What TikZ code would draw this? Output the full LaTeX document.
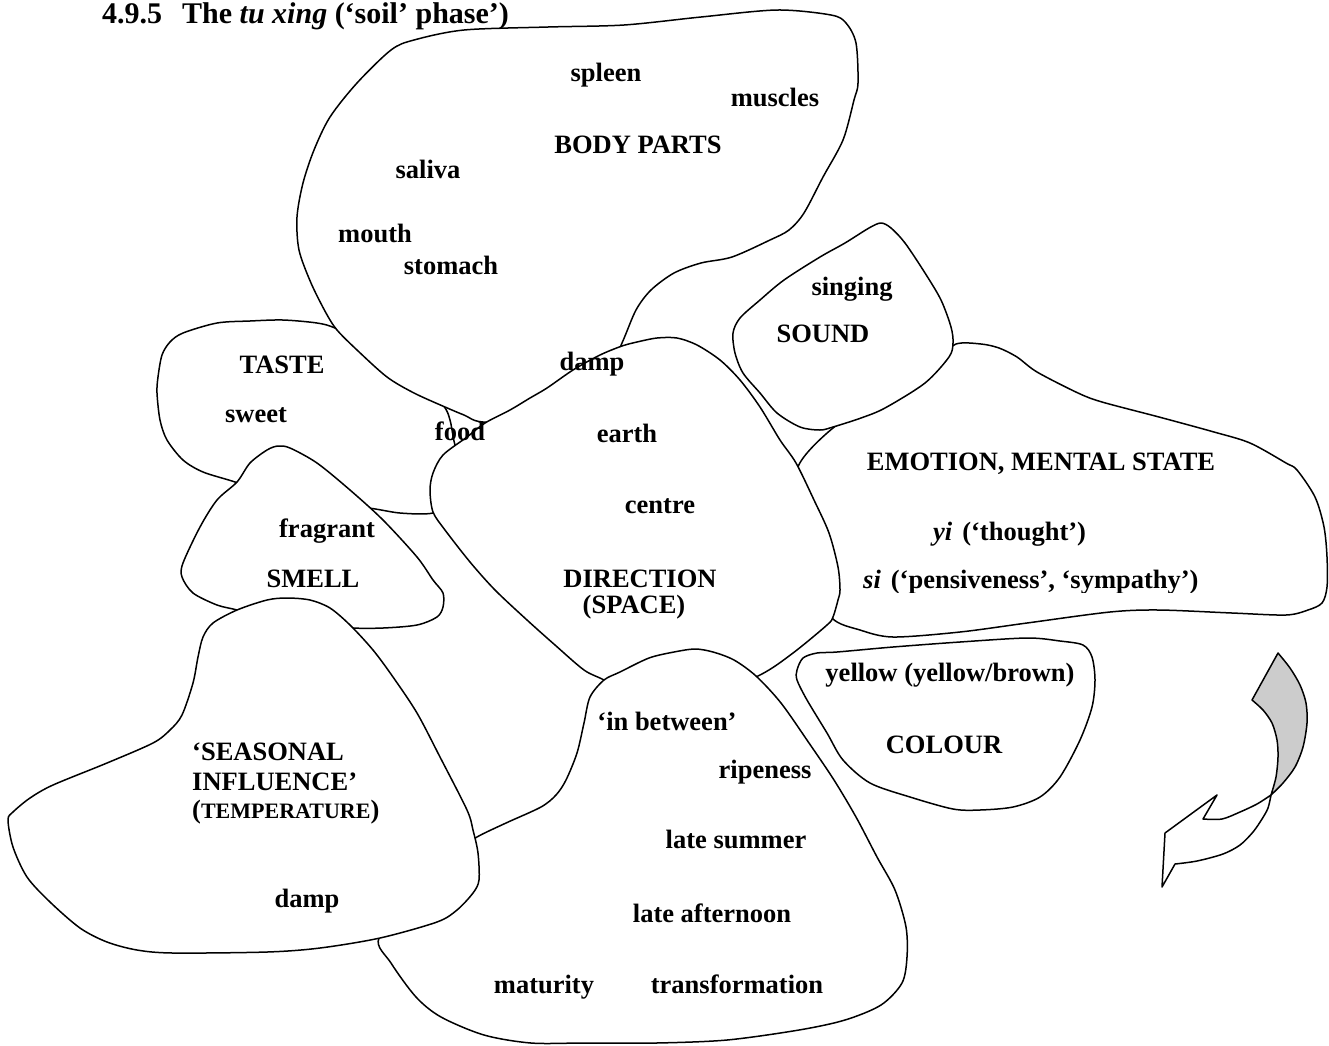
\documentclass[tikz,border=0pt]{standalone}
\usepackage{fontspec}
\setmainfont{Liberation Serif}
\definecolor{arrowgray}{RGB}{204,204,204}
\begin{document}
\begin{tikzpicture}[x=1pt,y=-1pt,
  blob/.style={draw=black, fill=white, line width=1.5pt, line join=round},
  lbl/.style={anchor=base, inner sep=0pt, font=\fontsize{26.5}{30}\selectfont\bfseries},
  lblw/.style={lbl, anchor=base west}]
\useasboundingbox (0,0) rectangle (1329,1045);

% ---- regions, back to front ----
% taste
\path[blob] plot[smooth cycle, tension=0.5] coordinates {
  (162,355) (170,342) (183,333) (217,323) (250,321) (283,320) (317,323) (335,328)
  (370,345) (415,375) (443,405) (450,420) (455,445) (465,470) (455,500)
  (433,513) (400,513) (368,508) (320,505) (270,495) (235,482) (203,472)
  (183,460) (167,440) (160,420) (157,393) (158,377)};
% smell
\path[blob] plot[smooth cycle, tension=0.5] coordinates {
  (237,482) (250,463) (267,450) (278,446) (290,448) (317,463) (350,490) (383,520)
  (417,557) (433,580) (443,593) (443,607) (437,617) (417,625) (383,628) (350,628)
  (300,625) (260,618) (237,610) (217,605) (193,593) (182,577) (183,563) (200,527) (217,500)};
% body parts
\path[blob] plot[smooth cycle, tension=0.5] coordinates {
  (391,50) (414,40) (464,30) (548,27) (624,25) (701,17) (777,10) (831,15) (846,23)
  (856,43) (858,83) (854,100) (843,140) (823,177) (804,213) (789,230) (770,240)
  (732,257) (701,263) (674,273) (651,290) (636,310) (622,343) (600,390) (540,420)
  (483,422) (464,415) (445,407) (414,393) (387,377) (357,350) (337,330) (326,313)
  (311,283) (299,250) (297,217) (303,183) (314,150) (330,117) (357,83)};
% emotion, mental state
\path[blob] plot[smooth cycle, tension=0.5] coordinates {
  (798,467) (833,428) (880,400) (935,360) (956,344) (981,344) (999,348) (1017,357)
  (1037,372) (1078,393) (1102,402) (1159,417) (1214,432) (1250,443) (1286,463)
  (1297,470) (1315,497) (1324,527) (1327,557) (1327,587) (1322,603) (1308,610)
  (1286,615) (1232,613) (1159,610) (1110,612) (1027,623) (960,632) (893,637)
  (860,630) (832,618) (815,580) (805,510)};
% direction
\path[blob] plot[smooth cycle, tension=0.5] coordinates {
  (485,423) (510,410) (530,398) (547,388) (573,370) (600,355) (622,346) (637,342)
  (657,338) (677,338) (697,345) (720,360) (740,380) (760,407) (780,440) (796,463)
  (814,500) (829,533) (838,567) (840,590) (838,600) (833,617) (827,625) (793,653)
  (760,675) (700,700) (640,700) (604,680) (584,670) (555,645) (527,620) (495,590)
  (470,562) (445,530) (433,512) (430,490) (433,473) (443,455) (467,437)};
% sound
\path[blob] plot[smooth cycle, tension=0.5] coordinates {
  (881,223) (891,228) (905,243) (925,273) (941,300) (951,327) (953,343) (949,357)
  (925,383) (885,408) (861,418) (833,427) (820,430) (800,427) (777,413) (760,393)
  (743,373) (735,353) (733,333) (740,318) (760,300) (784,280) (820,257) (845,243) (869,228)};
% time of day / season
\path[blob] plot[smooth cycle, tension=0.5] coordinates {
  (604,680) (620,672) (649,658) (674,652) (695,649) (713,652) (734,660) (756,676)
  (781,703) (809,743) (834,780) (856,817) (877,857) (895,890) (906,927) (907,957)
  (902,983) (881,1005) (845,1020) (799,1030) (727,1040) (656,1043) (584,1043)
  (531,1043) (484,1035) (441,1017) (416,997) (391,963) (379,938) (420,900) (460,850)
  (477,837) (506,823) (541,807) (556,795) (566,780) (577,753) (584,723) (590,697)};
% seasonal influence
\path[blob] plot[smooth cycle, tension=0.5] coordinates {
  (237,610) (267,600) (287,598) (310,600) (330,608) (350,625) (373,650) (393,677)
  (417,713) (440,757) (467,810) (473,830) (478,853) (479,880) (473,893) (457,910)
  (437,922) (380,938) (320,948) (267,952) (173,953) (137,950) (107,942) (80,928)
  (50,902) (27,877) (13,847) (8,820) (13,812) (30,798) (53,785) (107,763) (153,743)
  (170,730) (182,715) (193,683) (198,657) (203,637) (213,623)};
% colour
\path[blob] plot[smooth cycle, tension=0.5] coordinates {
  (797,670) (803,658) (817,653) (837,652) (893,647) (960,642) (1027,638) (1060,641)
  (1083,645) (1092,657) (1095,680) (1092,707) (1080,740) (1060,777) (1040,797)
  (1013,807) (980,810) (953,809) (910,797) (870,783) (843,760) (827,733) (807,700) (797,680)};

% ---- curved arrow ----
\draw[line width=1.5pt, line join=round, fill=arrowgray]
  (1252,700) -- (1278,653)
  -- plot[smooth, tension=0.5] coordinates {(1278,653) (1290,668) (1300,685) (1306,703)
       (1307,723) (1303,747) (1295,767) (1283,783) (1271,795)}
  -- plot[smooth, tension=0.5] coordinates {(1271,795) (1276,777) (1278,757) (1277,740)
       (1272,723) (1263,710) (1252,700)} -- cycle;
\draw[line width=1.5pt, line join=round, fill=white]
  (1271,795)
  -- plot[smooth, tension=0.5] coordinates {(1271,795) (1268,808) (1262,819) (1253,832)
       (1240,845) (1223,854) (1197,861) (1175,864)}
  -- (1162,887) -- (1165,833) -- (1217,795) -- (1203,819)
  -- plot[smooth, tension=0.5] coordinates {(1203,819) (1222,819) (1240,812) (1257,804) (1271,795)}
  -- cycle;

% ---- heading ----
\node[anchor=base west, inner sep=0pt, font=\fontsize{30}{34}\selectfont\bfseries] (title)
  at (102,23) {4.9.5\hspace{20pt}The \textit{tu xing} (‘soil’ phase’)};

% ---- labels ----
\node[lbl] (spleen) at (606,81) {spleen};
\node[lbl] (muscles) at (775,106) {muscles};
\node[lbl] (bodyparts) at (638,153) {BODY PARTS};
\node[lbl] (saliva) at (428,178) {saliva};
\node[lbl] (mouth) at (375,242) {mouth};
\node[lbl] (stomach) at (451,274) {stomach};
\node[lbl] (singing) at (852,295) {singing};
\node[lbl] (sound) at (823,342) {SOUND};
\node[lbl] (dampA) at (592,370) {damp};
\node[lbl] (taste) at (282,373) {TASTE};
\node[lbl] (sweet) at (256,422) {sweet};
\node[lbl] (food) at (460,440) {food};
\node[lbl] (earth) at (627,442) {earth};
\node[lbl] (emotion) at (1041,470) {EMOTION, MENTAL STATE};
\node[lbl] (centre) at (660,513) {centre};
\node[lbl] (fragrant) at (327,537) {fragrant};
\node[lblw] (yi) at (933,540) {\textit{yi}\hspace{10pt}(‘thought’)};
\begin{scope}
  \clip (850,550) rectangle (1220,592);
  \node[lblw] (si) at (863,588) {\textit{si}\hspace{10pt}(‘pensiveness’, ‘sympathy’)};
\end{scope}
\node[lbl] (smell) at (313,587) {SMELL};
\node[lbl] (direction) at (640,587) {DIRECTION};
\node[lbl] (space) at (634,613) {(SPACE)};
\node[lbl] (yellow) at (950,681) {yellow (yellow/brown)};
\node[lbl] (inbetween) at (667,730) {‘in between’};
\node[lbl] (colour) at (944,753) {COLOUR};
\node[lbl] (ripeness) at (765,778) {ripeness};
\node[lblw] (seasonal) at (192,760) {‘SEASONAL};
\node[lblw] (influence) at (192,790) {INFLUENCE’};
\node[lblw] (temperature) at (192,818)
  {(\fontsize{22}{26}\selectfont TEMPERATURE\fontsize{26.5}{30}\selectfont)};
\node[lbl] (latesummer) at (736,848) {late summer};
\node[lbl] (dampB) at (307,907) {damp};
\node[lbl] (lateafternoon) at (712,922) {late afternoon};
\node[lbl] (maturity) at (544,993) {maturity};
\node[lbl] (transformation) at (737,993) {transformation};
\end{tikzpicture}
\end{document}
